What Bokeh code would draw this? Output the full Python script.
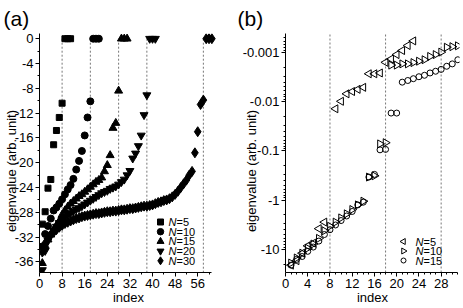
import numpy as np
from bokeh.plotting import figure
from bokeh.models import Range1d, FixedTicker, CustomJSTickFormatter, Label
from bokeh.layouts import row
from bokeh.embed import file_html
from bokeh.resources import INLINE

FONT = "Liberation Sans"

# ---------------- panel (a) data: eigenvalues vs index ----------------
a_N5 = [-29.9, -27.9, -24.1, -22.7, -17.1, -14.8, -12.7, -10.4, 0, 0, 0]
a_N10 = [-33.5, -31.5, -30.2, -29.0, -27.7, -27.2, -26.6, -25.9, -25.1, -24.3,
         -23.6, -22.6, -21.1, -19.7, -18.1, -15.6, -12.7, -10.1, 0, 0, 0]
a_N15 = [-36.2, -33.4, -32.4, -31.6, -30.8, -30.1, -29.4, -28.4, -27.7, -27.1,
         -26.6, -26.2, -25.8, -25.4, -25.1, -24.7, -24.3, -23.9, -23.5, -23.1,
         -22.8, -22.4, -21.4, -20.4, -18.8, -14.4, -13.6, -8.4, 0, 0, 0]
a_N20 = [-37.3, -34.2, -32.6, -31.6, -30.9, -30.3, -29.7, -29.2, -28.8, -28.4,
         -28.1, -27.8, -27.5, -27.3, -27.0, -26.7, -26.4, -26.1, -25.8, -25.5,
         -25.2, -24.9, -24.7, -24.5, -24.2, -24.0, -23.8, -23.5, -23.1, -22.7,
         -22.0, -21.3, -19.3, -18.5, -17.3, -15.6, -12.3, -9.1, 0, 0, 0]
a_N30 = [-34.4, -33.0, -32.2, -31.6, -31.2, -30.8, -30.4, -30.1, -29.8, -29.6,
         -29.4, -29.2, -29.0, -28.9, -28.7, -28.6, -28.5, -28.4, -28.3, -28.2,
         -28.2, -28.1, -28.0, -27.9, -27.9, -27.8, -27.8, -27.7, -27.6, -27.6,
         -27.5, -27.4, -27.4, -27.3, -27.2, -27.1, -27.0, -27.0, -26.9, -26.8,
         -26.6, -26.4, -26.3, -26.1, -26.0, -25.8, -25.5, -25.1, -24.6, -24.0,
         -23.4, -22.8, -22.0, -21.4, -18.4, -15.0, -10.6, -9.9, 0, 0, 0]
a_dividers = [8, 18, 28, 38, 58]
a_xticks = [0, 8, 16, 24, 32, 40, 48, 56]
a_yticks = [0, -4, -8, -12, -16, -20, -24, -28, -32, -36]
a_names = ["5", "10", "15", "20", "30"]

# ---------------- panel (b) data: eigenvalues (log axis) ----------------
b_N5_index = [1, 2, 3, 4, 5, 6, 7, 9, 10, 11, 12, 13, 14, 15, 16, 17,
              18, 19, 20, 21, 22, 23]
b_N5 = [-21, -17, -12, -8.5, -7.5, -3.8, -2.8, -0.0139, -0.0098, -0.0069,
        -0.0062, -0.0056, -0.0051, -0.0027, -0.0027, -0.0026, -0.00158,
        -0.00135, -0.0011, -0.00091, -0.00072, -0.00058]
b_N10_index = list(range(1, 32))
b_N10 = [-19, -15, -12, -9.5, -7.8, -6.0, -4.2, -3.4, -2.8, -2.3, -1.9, -1.55,
         -1.25, -1.05, -0.34, -0.32, -0.072, -0.068, -0.0018, -0.0018, -0.0017,
         -0.0017, -0.0016, -0.0015, -0.0014, -0.0012, -0.0011, -0.00098,
         -0.00078, -0.00076, -0.00073]
b_N15_index = list(range(1, 32))
b_N15 = [-21, -16, -14, -11, -9, -6.8, -5.0, -4.0, -3.2, -2.6, -2.1, -1.7,
         -1.25, -1.1, -0.34, -0.30, -0.095, -0.093, -0.017, -0.017, -0.0040,
         -0.0037, -0.0034, -0.0031, -0.0029, -0.0026, -0.0024, -0.0022,
         -0.0019, -0.0017, -0.0014]
b_dividers = [8, 18, 28]
b_xticks = [0, 4, 8, 12, 16, 20, 24, 28]
b_yticks = [0.001, 0.01, 0.1, 1, 10]
b_names = ["5", "10", "15"]

# ---------------- layout constants ----------------
H = 308
BT, BB = 33, 36
W_A, BL_A, BR_A = 226, 39, 9
W_B, BL_B, BR_B = 237, 59, 4
XA0, XA1 = 0, 63
YA0, YA1 = -37.7, 0.84
XB0, XB1 = 0, 31.3
YB_BOT, YB_TOP = 29.6, 0.00041
FRAME_H = H - BT - BB
YLABEL = "eigenvalue (arb. unit)"
PAD = "\u00a0" * 10


def style_axis(ax):
    ax.axis_line_color = "black"
    ax.axis_line_width = 1
    ax.major_tick_line_color = "black"
    ax.minor_tick_line_color = "black"
    ax.major_tick_out = 4
    ax.major_tick_in = 0
    ax.minor_tick_out = 2
    ax.minor_tick_in = 0
    ax.major_label_text_font = FONT
    ax.major_label_text_font_size = "13px"
    ax.major_label_text_color = "black"
    ax.major_label_standoff = 2
    ax.axis_label_text_font = FONT
    ax.axis_label_text_font_size = "13px"
    ax.axis_label_text_font_style = "normal"
    ax.axis_label_text_color = "black"
    ax.axis_label_standoff = -1


def add_text(p, x, y, text, size, align="left", style="normal"):
    p.add_layout(Label(x=x, y=y, x_units="screen", y_units="screen", text=text,
                       text_font=FONT, text_font_size=f"{size}px", text_align=align,
                       text_baseline="middle", text_font_style=style, text_color="black"))


def base_fig(width, bl, br, xr, yr, title, title_offset, **kw):
    p = figure(width=width, height=H, x_range=xr, y_range=yr, output_backend="svg",
               toolbar_location=None, min_border_left=bl, min_border_right=br,
               min_border_top=BT, min_border_bottom=BB, **kw)
    p.grid.visible = False
    p.outline_line_color = None
    p.background_fill_color = "white"
    p.border_fill_color = "white"
    style_axis(p.xaxis[0])
    style_axis(p.yaxis[0])
    p.title.text = title
    p.title.text_font = FONT
    p.title.text_font_size = "21px"
    p.title.text_font_style = "normal"
    p.title.text_color = "black"
    p.title.align = "left"
    p.title.offset = title_offset
    p.title.standoff = 8
    return p


# ================= panel (a) =================
p1 = base_fig(W_A, BL_A, BR_A, Range1d(XA0, XA1), Range1d(YA0, YA1), "(a)", -36)
p1.xaxis.bounds = (0, 61)
p1.xaxis.ticker = FixedTicker(ticks=a_xticks, minor_ticks=[t + 4 for t in a_xticks])
p1.yaxis.ticker = FixedTicker(ticks=a_yticks, minor_ticks=[t - 2 for t in a_yticks])
p1.yaxis.formatter = CustomJSTickFormatter(code="return String(tick);")
p1.xaxis.axis_label = "index"
p1.yaxis.axis_label = YLABEL + PAD
p1.yaxis.axis_label_standoff = -7

p1.segment(x0=a_dividers, y0=[0] * len(a_dividers), x1=a_dividers,
           y1=[YA0] * len(a_dividers), line_color="#777777", line_width=1, line_dash="2 2")

a_series = [a_N5, a_N10, a_N15, a_N20, a_N30]
a_markers = ["square", "circle", "triangle", "inverted_triangle", "diamond"]
a_sizes = [6, 7, 8, 8, 10]
for vals, mk, sz in zip(a_series, a_markers, a_sizes):
    idx = list(range(1, len(vals) + 1))
    p1.scatter(idx, vals, marker=mk, size=sz, fill_color="black", line_color="black")

# legend (a)
FW_A = W_A - BL_A - BR_A
def a_px_to_data(px, py):
    # px, py: offsets from frame left / frame top in pixels
    return XA0 + px / FW_A * (XA1 - XA0), YA1 - py / FRAME_H * (YA1 - YA0)

leg_a_x, leg_a_y0, leg_a_dy = 121, 188.5, 9.7
leg_a_sizes = [6, 6.5, 7, 7, 8]
for i, (name, mk, sz) in enumerate(zip(a_names, a_markers, leg_a_sizes)):
    py = leg_a_y0 + i * leg_a_dy
    mx, my = a_px_to_data(leg_a_x, py)
    p1.scatter([mx], [my], marker=mk, size=sz, fill_color="black", line_color="black")
    add_text(p1, leg_a_x + 8, FRAME_H - py, "N", 11, style="italic")
    add_text(p1, leg_a_x + 16, FRAME_H - py, "=" + name, 11)

# ================= panel (b) =================
p2 = base_fig(W_B, BL_B, BR_B, Range1d(XB0, XB1), Range1d(YB_BOT, YB_TOP), "(b)", -48,
              y_axis_type="log")
p2.xaxis.bounds = (0, 31)
p2.xaxis.ticker = FixedTicker(ticks=b_xticks, minor_ticks=[t + d for t in b_xticks for d in (1, 2, 3)])
minor_b = [m * 10.0 ** e for e in range(-4, 2) for m in range(2, 10)
           if YB_TOP <= m * 10.0 ** e <= YB_BOT]
p2.yaxis.ticker = FixedTicker(ticks=b_yticks, minor_ticks=minor_b)
p2.yaxis.formatter = CustomJSTickFormatter(code="return '-' + String(tick);")
p2.xaxis.axis_label = "index"
p2.yaxis.axis_label = YLABEL + PAD
p2.yaxis.axis_label_standoff = -19

p2.segment(x0=b_dividers, y0=[YB_BOT] * len(b_dividers), x1=b_dividers,
           y1=[YB_TOP] * len(b_dividers), line_color="#777777", line_width=1, line_dash="2 2")

b_series = [(b_N5_index, b_N5), (b_N10_index, b_N10), (b_N15_index, b_N15)]
b_markers = ["triangle", "triangle", "circle"]
b_angles = [np.pi / 2, -np.pi / 2, 0]
b_sizes = [8, 8, 6]
for (idx, vals), mk, ang, sz in zip(b_series, b_markers, b_angles, b_sizes):
    p2.scatter(idx, [-v for v in vals], marker=mk, angle=ang, size=sz,
               fill_color=None, line_color="black", line_width=1)

FW_B = W_B - BL_B - BR_B
def b_px_to_data(px, py):
    lt, lb = np.log10(YB_TOP), np.log10(YB_BOT)
    return XB0 + px / FW_B * (XB1 - XB0), 10 ** (lt + py / FRAME_H * (lb - lt))

leg_b_x, leg_b_y0, leg_b_dy = 118, 208, 9.5
leg_b_sizes = [6, 6, 5]
for i, (name, mk, ang, sz) in enumerate(zip(b_names, b_markers, b_angles, leg_b_sizes)):
    py = leg_b_y0 + i * leg_b_dy
    mx, my = b_px_to_data(leg_b_x, py)
    p2.scatter([mx], [my], marker=mk, angle=ang, size=sz, fill_color=None,
               line_color="black", line_width=1)
    add_text(p2, leg_b_x + 12, FRAME_H - py, "N", 11, style="italic")
    add_text(p2, leg_b_x + 20, FRAME_H - py, "=" + name, 11)

layout = row(p1, p2)
open("out.html", "w").write(file_html(layout, INLINE))
